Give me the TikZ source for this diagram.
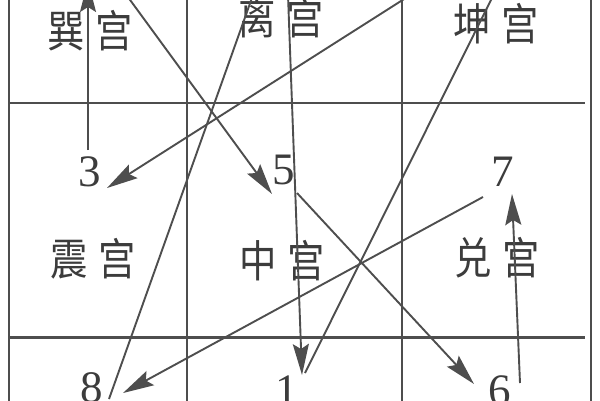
\documentclass[tikz,border=0pt]{standalone}
\usepackage{fontspec}
\newfontfamily\cjk{Noto Sans CJK SC}
\newfontfamily\digitfont{Liberation Serif}
\usetikzlibrary{arrows.meta}
\definecolor{linegray}{RGB}{78,78,78}
\definecolor{textgray}{RGB}{60,60,60}
\newcommand\palname[2]{\scalebox{0.85}[1]{#1\hspace{12pt}#2}}
\tikzset{
  palace/.style={inner sep=0pt, text=textgray, font=\cjk\fontsize{44}{44}\selectfont},
  num/.style={inner sep=0pt, text=textgray, font=\digitfont\fontsize{45}{45}\selectfont},
  gridline/.style={draw=linegray, line width=2.4pt},
  arr/.style={draw=linegray, line width=1.9pt, -{Stealth[length=31pt,width=16pt,inset=5pt]}},
  plain/.style={draw=linegray, line width=1.9pt}
}
\begin{document}
\begin{tikzpicture}[x=1pt,y=-1pt]
\useasboundingbox (0,0) rectangle (600,400);
\clip (0,0) rectangle (600,400);
\fill[white] (0,0) rectangle (600,400);
% grid
\draw[gridline] (9,-5) -- (9,405);
\draw[gridline] (187,-5) -- (187,405);
\draw[gridline] (402,-5) -- (402,405);
\draw[gridline] (591,-5) -- (591,405);
\draw[gridline] (9,103) -- (585,103);
\draw[gridline] (9,337.5) -- (585,337.5);
% palace names
\node[palace] (xun) at (90,31) {\palname{巽}{宫}};
\node[palace] (li) at (281,18) {\palname{离}{宫}};
\node[palace] (kun) at (496,24) {\palname{坤}{宫}};
\node[palace] (zhen) at (93,259) {\palname{震}{宫}};
\node[palace] (zhong) at (282,261) {\palname{中}{宫}};
\node[palace] (dui) at (497,258) {\palname{兑}{宫}};
% numbers
\node[num] (n3) at (90,172) {3};
\node[num] (n5) at (284,170) {5};
\node[num] (n7) at (503,172) {7};
\node[num] (n8) at (92,388) {8};
\node[num] (n1) at (287,391) {1};
\node[num] (n6) at (500,391) {6};
% off-picture ends
\coordinate (t4) at (88,-19);
\coordinate (s4) at (125,-7);
\coordinate (t2) at (495,-8);
\coordinate (s2) at (412,-6);
\coordinate (t9) at (253,-5);
\coordinate (s9) at (288,-5);
% flight path
\draw[plain] ([shift={(18,-18)}]n1.center) -- (t2);              % 1 -> 2
\draw[arr] (s2) -- ([shift={(17,16)}]n3.center);                  % 2 -> 3
\draw[arr] ([shift={(-2,-22)}]n3.center) -- (t4);                 % 3 -> 4
\draw[arr] (s4) -- ([shift={(-12,24)}]n5.center);                 % 4 -> 5
\draw[arr] ([shift={(13,23)}]n5.center) -- ([shift={(-26,-7)}]n6.center); % 5 -> 6
\draw[arr] ([shift={(20,-8)}]n6.center) -- ([shift={(9,22)}]n7.center);   % 6 -> 7
\draw[arr] ([shift={(-20,25)}]n7.center) -- ([shift={(31,5)}]n8.center);  % 7 -> 8
\draw[plain] ([shift={(17,11)}]n8.center) -- (t9);                % 8 -> 9
\draw[arr] (s9) -- ([shift={(15,-16)}]n1.center);                 % 9 -> 1
\end{tikzpicture}
\end{document}
